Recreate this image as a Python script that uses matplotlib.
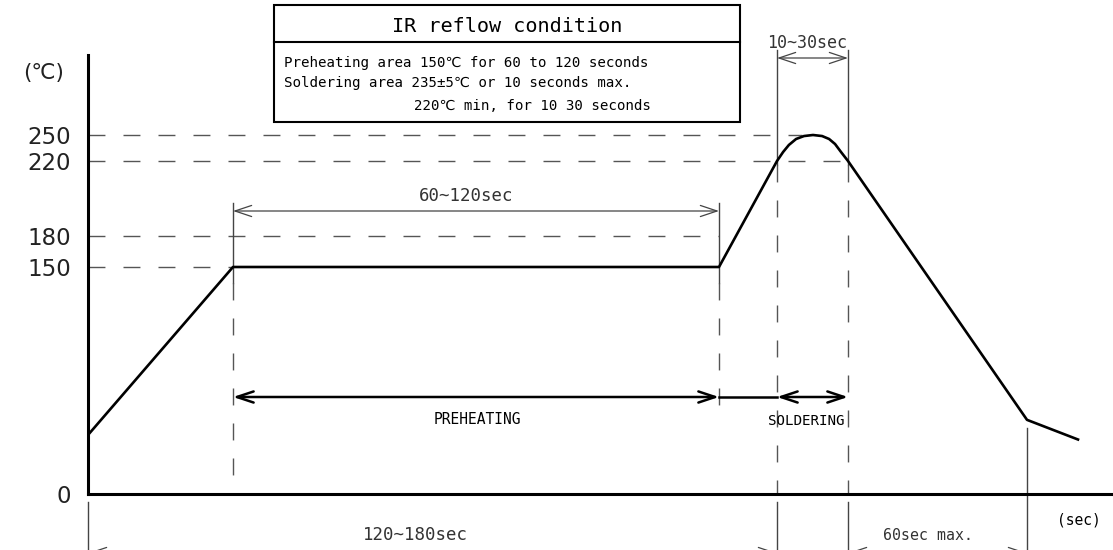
import numpy as np
import matplotlib
matplotlib.use("Agg")
import matplotlib.pyplot as plt
from matplotlib.patches import FancyArrowPatch, Rectangle
from matplotlib.transforms import blended_transform_factory

# reflow profile (schematic time in s, temperature in degC)
profile_t = [0, 30, 120, 150, 151.7, 153.3, 155.3, 157.5, 160, 162.6, 164.6, 166.3, 168.0, 170, 230, 250]
profile_T = [39, 150, 150, 220, 230.4, 238.5, 245.4, 248.8, 250, 248.8, 245.4, 239.6, 230.4, 220, 49, 36]

temp_ticks = [0, 150, 180, 220, 250]
guide_end_t = [0, 30, 120, 170, 157]      # where each dashed guide stops
preheat_t = (30, 120)
solder_t = (150, 170)
cool_end_t = 230

# the drawing is not to scale: piecewise mapping of values onto the sheet
time_anchor = [-50, 0, 30, 120, 150, 160, 170, 230, 250, 300]
time_px = [-153.7, 88, 233, 719, 777, 813, 848, 1027, 1078, 1205.5]
temp_anchor = [-100, 0, 150, 180, 220, 250, 500]
temp_px = [645.3, 494, 267, 236, 161, 135, -81.7]

W, H = 1113, 550
narrow = ["DejaVu Sans Mono", "DejaVu Sans"]
thin_c = "#444444"
dash_c = "#555555"


def t_fwd(t):
    return np.interp(t, time_anchor, time_px)


def t_inv(x):
    return np.interp(x, time_px, time_anchor)


def T_fwd(T):
    return np.interp(T, temp_anchor, 494 - np.array(temp_px))


def T_inv(h):
    return np.interp(h, 494 - np.array(temp_px), temp_anchor)


fig = plt.figure(figsize=(W / 100, H / 100), dpi=100)
ax = fig.add_axes([88 / W, (H - 494) / H, (W - 88) / W, 494 / H])
ax.patch.set_visible(False)
ax.set_xscale("function", functions=(t_fwd, t_inv))
ax.set_yscale("function", functions=(T_fwd, T_inv))
ax.set_xlim(0, float(t_inv(W)))
ax.set_ylim(0, float(T_inv(494)))
ax.set_autoscale_on(False)

ov = fig.add_axes([0, 0, 1, 1])
ov.set_xlim(0, W)
ov.set_ylim(H, 0)
ov.set_autoscale_on(False)
ov.axis("off")

bt = blended_transform_factory(ax.transData, ov.transData)

for s in ["top", "right"]:
    ax.spines[s].set_visible(False)
ax.spines["left"].set_linewidth(2.2)
ax.spines["bottom"].set_linewidth(2.2)
ax.spines["left"].set_bounds(0, float(T_inv(494 - 55)))
ax.set_xticks([])
ax.set_yticks(temp_ticks)
ax.set_yticklabels([str(v) for v in temp_ticks], fontsize=16.5, color="#222222")
ax.tick_params(axis="y", length=0, pad=12)

dash = (12.2, 13.0)

# horizontal guides
for T, t_end in zip(temp_ticks[1:], guide_end_t[1:]):
    ax.plot([0, t_end], [T, T], color=dash_c, lw=1.0, dashes=dash)

# vertical extension lines (y given in sheet pixels)
def vline(t, y0, y1, dashed=False):
    kw = dict(dashes=dash) if dashed else {}
    ax.plot([t, t], [y0, y1], transform=bt, color=thin_c if not dashed else dash_c,
            lw=1.0, clip_on=False, **kw)

vline(preheat_t[0], 203, 283)
vline(preheat_t[0], 283, 494, True)
vline(preheat_t[1], 203, 283)
vline(preheat_t[1], 283, 418, True)
for t in solder_t:
    vline(t, 50, 165)
    vline(t, 165, 494, True)
    vline(t, 502, 550)
vline(cool_end_t, 428, 550)
vline(0, 502, 550)

# profile
ax.plot(profile_t, profile_T, color="black", lw=1.9, solid_joinstyle="round", zorder=5)


def arrow(t0, t1, y, lw, style="<->", color=thin_c):
    p = FancyArrowPatch((t0, y), (t1, y), transform=bt, arrowstyle=style + ",head_length=0.6,head_width=0.2",
                        mutation_scale=20, lw=lw, color=color, shrinkA=0, shrinkB=0, clip_on=False)
    ax.add_patch(p)


arrow(preheat_t[0], preheat_t[1], 211, 0.9)
arrow(solder_t[0], solder_t[1], 58, 0.9)
arrow(preheat_t[0], preheat_t[1], 397, 1.8, color="black")
ax.plot([preheat_t[1], solder_t[0]], [397, 397], transform=bt, color="black", lw=1.8, clip_on=False)
arrow(solder_t[0], solder_t[1], 397, 1.8, color="black")
arrow(0, solder_t[0], 553, 0.9)
arrow(solder_t[1], cool_end_t, 553, 0.9)

# text
ov.text(466, 196, "60~120sec", family=narrow, fontsize=12.5, color="#333333", ha="center", va="center")
ov.text(807, 43, "10~30sec", family=narrow, fontsize=12, color="#333333", ha="center", va="center")
ov.text(477, 419, "PREHEATING", family=narrow, fontsize=10.5, ha="center", va="center")
ov.text(806, 421, "SOLDERING", family=narrow, fontsize=10.2, ha="center", va="center")
ov.text(415, 535, "120~180sec", family=narrow, fontsize=12.5, color="#333333", ha="center", va="center")
ov.text(928, 535, "60sec max.", family=narrow, fontsize=10.7, color="#333333", ha="center", va="center")
ov.text(1079, 520, "(sec)", family=narrow, fontsize=10.5, ha="center", va="center")
ov.text(44, 73, "(℃)", family=["DejaVu Sans"], fontsize=15.5, color="#222222", ha="center", va="center")

# condition box
ov.add_patch(Rectangle((274, 5), 466, 117, fill=False, lw=1.5, ec="black"))
ov.plot([274, 740], [41.5, 41.5], color="black", lw=1.5)
ov.text(507, 32, "IR reflow condition", family=narrow, fontsize=14.5, ha="center", va="baseline")
ov.text(284, 67, "Preheating area 150℃ for 60 to 120 seconds", family=narrow, fontsize=10.2, va="baseline")
ov.text(284, 87, "Soldering area 235±5℃ or 10 seconds max.", family=narrow, fontsize=10.2, va="baseline")
ov.text(414, 110, "220℃ min, for 10 30 seconds", family=narrow, fontsize=10.2, va="baseline")

fig.savefig("out.png", dpi=100)
